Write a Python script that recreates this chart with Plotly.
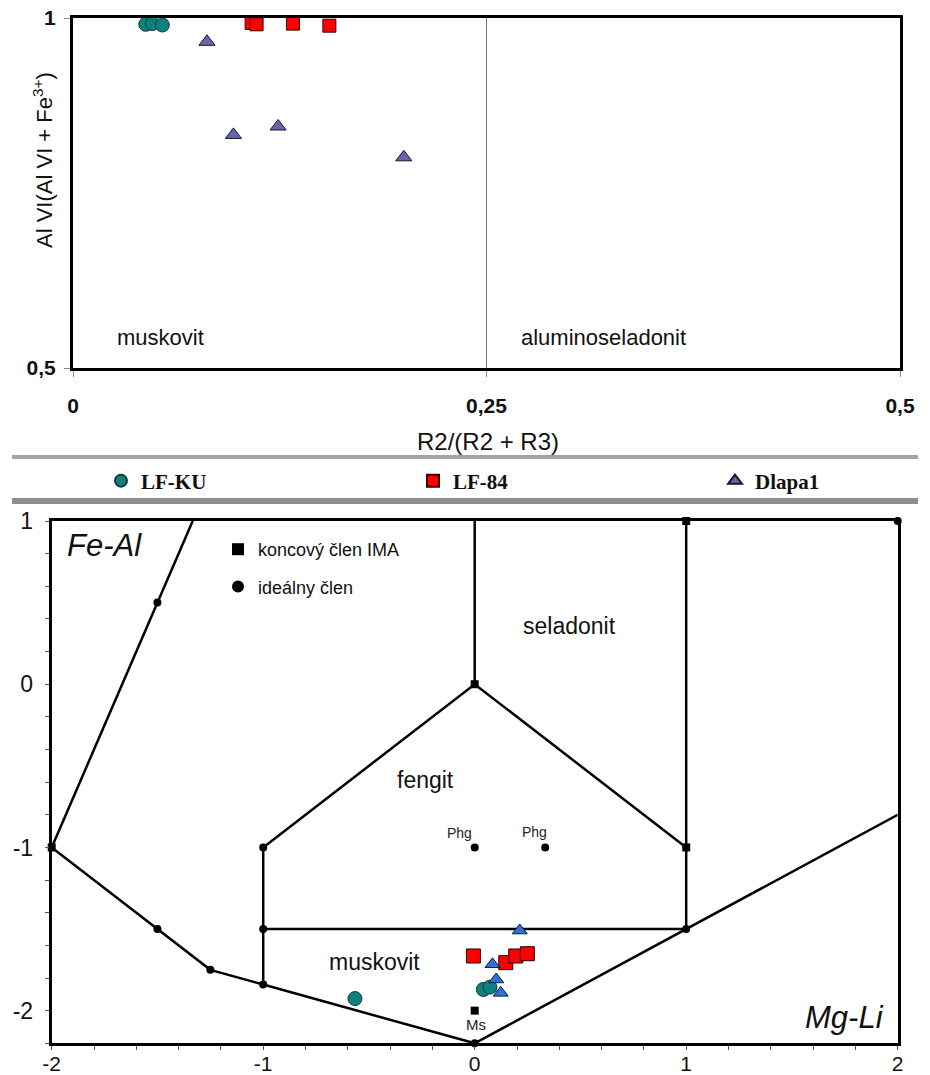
import plotly.graph_objects as go

W, H = 930, 1075

# ---------- upper diagram: Al VI/(Al VI + Fe3+) vs R2/(R2 + R3) ----------
lfku_r2 = [0.044, 0.048, 0.054]
lfku_al = [0.991, 0.992, 0.990]
lf84_r2 = [0.108, 0.111, 0.133, 0.155]
lf84_al = [0.993, 0.991, 0.992, 0.989]
dlapa_r2 = [0.081, 0.097, 0.124, 0.200]
dlapa_al = [0.966, 0.833, 0.845, 0.801]

top_xticks = [0, 0.25, 0.5]
top_xticktext = ["0", "0,25", "0,5"]
top_yticks = [0.5, 1]
top_yticktext = ["0,5", "1"]
field_split = 0.25

# ---------- lower diagram: Fe-Al vs Mg-Li ----------
lfku_mgli = [-0.566, 0.041, 0.072]
lfku_feal = [-1.926, -1.870, -1.856]
lf84_mgli = [-0.006, 0.147, 0.194, 0.249]
lf84_feal = [-1.665, -1.706, -1.665, -1.651]
dlapa_mgli = [0.213, 0.084, 0.102, 0.123]
dlapa_feal = [-1.509, -1.716, -1.809, -1.891]

bot_xticks = [-2, -1, 0, 1, 2]
bot_xticktext = ["-2", "-1", "0", "1", "2"]
bot_yticks = [-2, -1, 0, 1]
bot_yticktext = ["-2", "-1", "0", "1"]

# IMA end-members (squares) and ideal members (dots)
ima_mgli = [-2, 0, 1, 1, 0]
ima_feal = [-1, 0, 1, -1, -2]
ideal_mgli = [-1.5, 2, -1, -1, -1.5, -1.25, -1, 0, 1, 0, 1 / 3]
ideal_feal = [0.5, 1, -1, -1.5, -1.5, -1.75, -1.84, -2.2, -1.5, -1, -1]

# field boundaries (polylines)
boundaries = [
    ([-2, -1.5, -4 / 3], [-1, 0.5, 1]),
    ([-2, -1.5, -1.25, -1, 0], [-1, -1.5, -1.75, -1.84, -2.2]),
    ([0, 1, 2], [-2.2, -1.5, -0.8]),
    ([-1, -1], [-1.84, -1]),
    ([-1, 0, 1], [-1, 0, -1]),
    ([0, 0], [0, 1]),
    ([1, 1], [-1.5, 1]),
    ([-1, 1], [-1.5, -1.5]),
]

C_TEAL = "#10807c"
C_RED = "#ff0000"
C_SLATE = "#6667a8"
C_BLUE = "#2f72d6"

SANS = "Liberation Sans, Arial, sans-serif"
SERIF = "Liberation Serif, Times New Roman, serif"

fig = go.Figure()

# upper diagram
fig.add_trace(go.Scatter(
    x=[field_split, field_split], y=[0.5, 1], mode="lines",
    line=dict(color="#777777", width=1), showlegend=False, hoverinfo="skip",
    xaxis="x", yaxis="y"))
fig.add_trace(go.Scatter(
    x=lfku_r2, y=lfku_al, mode="markers", name="LF-KU",
    marker=dict(symbol="circle", size=14, color=C_TEAL,
                line=dict(color="#0b3b3a", width=1)),
    xaxis="x", yaxis="y", legend="legend"))
fig.add_trace(go.Scatter(
    x=lf84_r2, y=lf84_al, mode="markers", name="LF-84",
    marker=dict(symbol="square", size=13, color=C_RED,
                line=dict(color="#3a0000", width=1)),
    xaxis="x", yaxis="y", legend="legend3"))
fig.add_trace(go.Scatter(
    x=dlapa_r2, y=dlapa_al, mode="markers", name="Dlapa1",
    marker=dict(symbol="triangle-up", size=14, color=C_SLATE,
                line=dict(color="#15152e", width=1)),
    xaxis="x", yaxis="y", legend="legend4"))

# lower diagram: boundaries
bx, by = [], []
for xs, ys in boundaries:
    bx += list(xs) + [None]
    by += list(ys) + [None]
fig.add_trace(go.Scatter(
    x=bx, y=by, mode="lines", line=dict(color="black", width=2.5),
    showlegend=False, hoverinfo="skip", xaxis="x2", yaxis="y2"))
fig.add_trace(go.Scatter(
    x=ideal_mgli, y=ideal_feal, mode="markers", name="ideálny člen",
    marker=dict(symbol="circle", size=8, color="black"),
    xaxis="x2", yaxis="y2", legend="legend2", legendgroup="ideal",
    legendrank=2, cliponaxis=False))
fig.add_trace(go.Scatter(
    x=ima_mgli, y=ima_feal, mode="markers", name="koncový člen IMA",
    marker=dict(symbol="square", size=8, color="black"),
    xaxis="x2", yaxis="y2", legend="legend2", legendgroup="ima",
    legendrank=1, cliponaxis=False))

fig.add_trace(go.Scatter(
    x=lfku_mgli, y=lfku_feal, mode="markers", showlegend=False,
    marker=dict(symbol="circle", size=14, color=C_TEAL,
                line=dict(color="#0b3b3a", width=1)),
    xaxis="x2", yaxis="y2"))
fig.add_trace(go.Scatter(
    x=lf84_mgli, y=lf84_feal, mode="markers", showlegend=False,
    marker=dict(symbol="square", size=14, color=C_RED,
                line=dict(color="#2a0000", width=1)),
    xaxis="x2", yaxis="y2"))
fig.add_trace(go.Scatter(
    x=dlapa_mgli, y=dlapa_feal, mode="markers", showlegend=False,
    marker=dict(symbol="triangle-up", size=13, color=C_BLUE,
                line=dict(color="#0a1a33", width=1)),
    xaxis="x2", yaxis="y2"))


def px_x(p):
    return p / W


def px_y(p):
    return 1 - p / H


frame = dict(showline=True, mirror=True, linewidth=3, linecolor="black",
             showgrid=False, zeroline=False, automargin=False)


def note(text, x, y, size, ref=("x2", "y2"), color="#111", **kw):
    return dict(text=text, x=x, y=y, xref=ref[0], yref=ref[1],
                xanchor="center", yanchor="middle", showarrow=False,
                font=dict(family=SANS, size=size, color=color), **kw)


PAPER = ("paper", "paper")
annotations = [
    # upper diagram texts
    note("Al VI(Al VI + Fe<sup>3+</sup>)", px_x(43), px_y(160), 22,
         ref=PAPER, textangle=-90),
    note("R2/(R2 + R3)", px_x(488), px_y(441), 24, ref=PAPER),
    note("muskovit", 0.053, 0.543, 22, ref=("x", "y")),
    note("aluminoseladonit", 0.321, 0.543, 22, ref=("x", "y")),
    # lower diagram texts
    note("<i>Fe-Al</i>", -1.75, 0.85, 31),
    note("<i>Mg-Li</i>", 1.75, -2.04, 31),
    note("seladonit", 0.449, 0.356, 23),
    note("fengit", -0.234, -0.589, 23),
    note("muskovit", -0.473, -1.70, 23),
    note("Phg", -0.071, -0.912, 14, color="#222"),
    note("Phg", 0.284, -0.908, 14, color="#222"),
    note("Ms", 0.005, -2.085, 15, color="#222"),
]

shapes = [
    dict(type="line", xref="paper", yref="paper", x0=px_x(12), x1=px_x(918),
         y0=px_y(457), y1=px_y(457), line=dict(color="#a3a3a3", width=4)),
    dict(type="line", xref="paper", yref="paper", x0=px_x(12), x1=px_x(918),
         y0=px_y(501), y1=px_y(501), line=dict(color="#8f8f8f", width=6)),
]

series_legend = dict(orientation="h", xanchor="left", y=px_y(481),
                     yanchor="middle", itemsizing="constant",
                     bgcolor="rgba(0,0,0,0)", borderwidth=0,
                     font=dict(family=SERIF, size=21, weight="bold",
                               color="#111"))

fig.update_layout(
    width=W, height=H,
    margin=dict(l=0, r=0, t=0, b=0, autoexpand=False),
    paper_bgcolor="white", plot_bgcolor="white",
    font=dict(family=SANS, color="#111"),
    xaxis=dict(domain=[px_x(73), px_x(900)], range=[0, 0.5], anchor="y",
               tickvals=top_xticks, ticktext=top_xticktext,
               ticks="outside", ticklen=6, tickcolor="#888",
               ticklabelstandoff=11,
               tickfont=dict(family=SANS, size=21, weight="bold", color="#111"),
               **frame),
    yaxis=dict(domain=[px_y(368), px_y(18)], range=[0.5, 1], anchor="x",
               tickvals=top_yticks, ticktext=top_yticktext,
               ticks="outside", ticklen=6, tickcolor="#888",
               ticklabelstandoff=4,
               tickfont=dict(family=SANS, size=21, weight="bold", color="#111"),
               **frame),
    xaxis2=dict(domain=[px_x(51.7), px_x(897.7)], range=[-2, 2], anchor="y2",
                tickvals=bot_xticks, ticktext=bot_xticktext,
                ticks="outside", ticklen=4,
                tickcolor="#555", ticklabelstandoff=-5,
                minor=dict(dtick=0.2, tick0=0, ticks="outside", ticklen=4,
                           tickcolor="#555"),
                tickfont=dict(family=SANS, size=21, color="#111"),
                **frame),
    yaxis2=dict(domain=[px_y(1043.3), px_y(521)], range=[-2.2, 1],
                anchor="x2", tickvals=bot_yticks, ticktext=bot_yticktext,
                ticks="outside", ticklen=4,
                tickcolor="#555", ticklabelstandoff=7,
                minor=dict(dtick=0.2, tick0=0, ticks="outside", ticklen=4,
                           tickcolor="#555"),
                tickfont=dict(family=SANS, size=23, color="#111"),
                **frame),
    legend=dict(x=px_x(101), **series_legend),
    legend3=dict(x=px_x(413), **series_legend),
    legend4=dict(x=px_x(715), **series_legend),
    legend2=dict(orientation="v", x=px_x(218), xanchor="left",
                 y=px_y(531), yanchor="top", tracegroupgap=11,
                 itemsizing="constant", bgcolor="rgba(0,0,0,0)",
                 borderwidth=0,
                 font=dict(family=SANS, size=18, color="#111")),
    annotations=annotations,
    shapes=shapes,
)

fig.write_html("out.html")
